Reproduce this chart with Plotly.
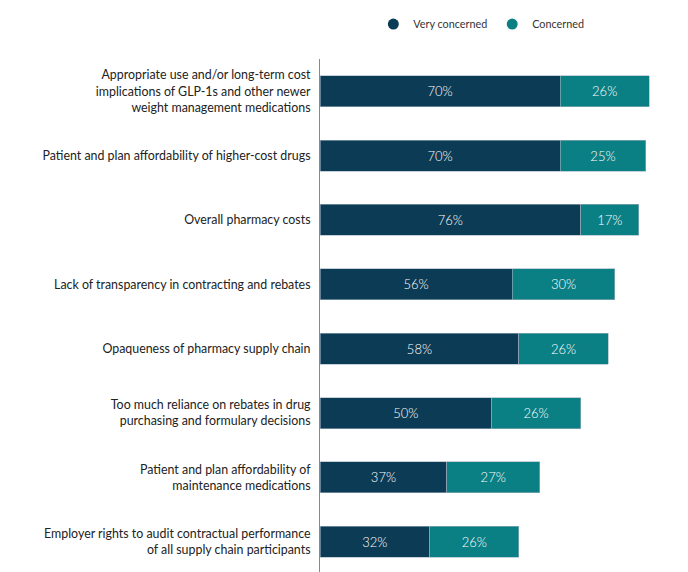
import plotly.graph_objs as graph_objs

categories = [
    "Appropriate use and/or long-term cost<br>implications of GLP-1s and other newer<br>weight management medications",
    "Patient and plan affordability of higher-cost drugs",
    "Overall pharmacy costs",
    "Lack of transparency in contracting and rebates",
    "Opaqueness of pharmacy supply chain",
    "Too much reliance on rebates in drug<br>purchasing and formulary decisions",
    "Patient and plan affordability of<br>maintenance medications",
    "Employer rights to audit contractual performance<br>of all supply chain participants",
]
very_concerned = [70, 70, 76, 56, 58, 50, 37, 32]
concerned = [26, 25, 17, 30, 26, 26, 27, 26]

NAVY = "#0c3b55"
TEAL = "#0a8085"
FONT = "Lato"

fig = graph_objs.Figure()

for name, vals, color in [("Very concerned", very_concerned, NAVY),
                          ("Concerned", concerned, TEAL)]:
    fig.add_trace(graph_objs.Bar(
        y=categories, x=vals, name=name, orientation="h",
        marker=dict(color=color, line=dict(color="#9fb3bf", width=0.6)),
        text=[f"{v}%" for v in vals], textposition="inside",
        insidetextanchor="middle",
        textfont=dict(color="white", size=13, family=FONT, weight=300),
        hoverinfo="skip", showlegend=False,
    ))

# round legend markers like the original
for name, color in [("Very concerned", NAVY), ("Concerned", TEAL)]:
    fig.add_trace(graph_objs.Scatter(
        x=[None], y=[None], mode="markers", name=name,
        marker=dict(color=color, size=11, symbol="circle"),
        hoverinfo="skip",
    ))

fig.update_layout(
    barmode="stack",
    bargap=0.52,
    width=688, height=572,
    margin=dict(l=312, r=33, t=51, b=6, autoexpand=False),
    plot_bgcolor="white", paper_bgcolor="white",
    font=dict(family=FONT, size=12.4, color="#222222"),
    showlegend=True,
    legend=dict(orientation="h", traceorder="normal",
                x=0.688, xref="container", xanchor="center",
                y=0.972, yref="container", yanchor="middle",
                font=dict(size=10.8, color="#333333"),
                itemwidth=30, tracegroupgap=0),
    uniformtext=dict(minsize=8, mode="show"),
)
fig.update_xaxes(range=[0, 100], visible=False)
fig.update_yaxes(autorange="reversed", showline=True, linecolor="#888888",
                 linewidth=1, ticks="", ticklabelstandoff=6, automargin=False,
                 showgrid=False, tickfont=dict(size=12.4))

fig.write_html("out.html")
